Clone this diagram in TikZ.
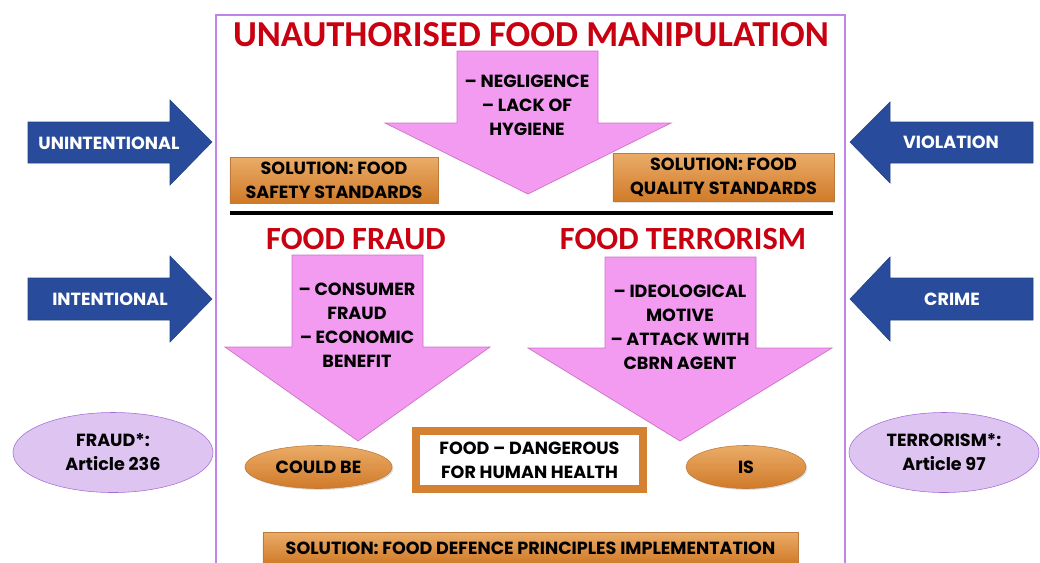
\documentclass[tikz,border=0pt]{standalone}
\usepackage{fontspec}
\usepackage{xcolor}
\usetikzlibrary{shapes.geometric,shadows}
\setmainfont{Poppins}
\newfontfamily\headfont{Carlito}
\definecolor{manipulation}{RGB}{200,0,16}
\definecolor{framing}{RGB}{192,132,236}
\definecolor{arrowpink}{RGB}{242,155,240}
\definecolor{pinkedge}{RGB}{205,115,200}
\definecolor{crimeblue}{RGB}{40,76,155}
\definecolor{orangetop}{RGB}{234,172,104}
\definecolor{orangebottom}{RGB}{208,122,40}
\definecolor{orangeedge}{RGB}{190,122,60}
\definecolor{lavender}{RGB}{222,196,240}
\definecolor{lavenderedge}{RGB}{165,110,215}
\tikzstyle{body}=[font=\bfseries\fontsize{12.5}{17}\selectfont, align=center]
\tikzstyle{heading}=[font=\headfont\bfseries\fontsize{26}{30}\selectfont, text=manipulation]
\tikzstyle{subheading}=[font=\headfont\bfseries\fontsize{23}{27}\selectfont, text=manipulation]
\tikzstyle{sidearrow}=[fill=crimeblue, draw=crimeblue!85!black, line width=.4pt]
\tikzstyle{downarrow}=[fill=arrowpink, draw=pinkedge, line width=.5pt]
\tikzstyle{solution}=[body, draw=orangeedge, top color=orangetop, bottom color=orangebottom,
  drop shadow={opacity=.25, shadow xshift=1pt, shadow yshift=-1pt}]
\tikzstyle{oval}=[body, ellipse, inner sep=0pt, draw=orangeedge, top color=orangetop, bottom color=orangebottom,
  drop shadow={opacity=.25, shadow xshift=1pt, shadow yshift=-1pt}]
\tikzstyle{article}=[body, ellipse, inner sep=0pt, draw=lavenderedge, fill=lavender]

\begin{document}
\begin{tikzpicture}[x=0.025cm, y=-0.025cm]
  \useasboundingbox (0,0) rectangle (1040,562);
  \clip (0,0) rectangle (1040,562);

  %% frame and title
  \draw[framing, line width=1pt] (216,15) rectangle (845,580);
  \draw (531,35) node[heading] (title) {UNAUTHORISED FOOD MANIPULATION};

  %% unauthorised part
  \draw[downarrow] (457,51) -- (598,51) -- (598,123) -- (671,123) -- (528,194) -- (385,123) -- (457,123) -- cycle;
  \draw (527,105) node[body] (negligence) {-- NEGLIGENCE\\-- LACK OF\\HYGIENE};

  \draw (334,180) node[solution, minimum width=5.2cm, minimum height=1.05cm] (safety) {SOLUTION: FOOD\\SAFETY STANDARDS};
  \draw (723.5,177.5) node[solution, minimum width=5.525cm, minimum height=1.075cm] (quality) {SOLUTION: FOOD\\QUALITY STANDARDS};

  \draw[line width=2.2pt] (safety.south west |- 0,213) coordinate (sepL) -- (833,213) coordinate (sepR);

  %% intentional part
  \draw (356,239) node[subheading] (fraud) {FOOD FRAUD};
  \draw (683,239) node[subheading] (terror) {FOOD TERRORISM};

  \draw[downarrow] (292,255) -- (423,255) -- (423,347) -- (490,347) -- (358,441) -- (225,347) -- (292,347) -- cycle;
  \draw (357,325) node[body] (motiveF) {-- CONSUMER\\FRAUD\\-- ECONOMIC\\BENEFIT};

  \draw[downarrow] (605,257) -- (756,257) -- (756,348) -- (832,348) -- (680,441) -- (528,348) -- (605,348) -- cycle;
  \draw (680,327) node[body] (motiveT) {-- IDEOLOGICAL\\MOTIVE\\-- ATTACK WITH\\CBRN AGENT};

  \draw (529.5,460) node[body, draw=orangebottom!85!orangetop, line width=5.5pt, fill=white,
    minimum width=5.675cm, minimum height=1.45cm,
    drop shadow={opacity=.3, shadow xshift=1.5pt, shadow yshift=-1.5pt}] (danger) {FOOD -- DANGEROUS\\FOR HUMAN HEALTH};
  \draw (318.5,467) node[oval, minimum width=3.675cm, minimum height=1.075cm] (could) {COULD BE};
  \draw (746,467) node[oval, minimum width=3cm, minimum height=1.075cm] (is) {IS};

  \draw (530.5,548) node[solution, minimum width=13.375cm, minimum height=0.8cm] (defence) {SOLUTION: FOOD DEFENCE PRINCIPLES IMPLEMENTATION};

  %% side arrows
  \draw[sidearrow] (28,122) -- (170,122) -- (170,100) -- (212,142) -- (170,185) -- (170,163) -- (28,163) -- cycle;
  \draw (109,143) node[body, text=white] (unintentional) {UNINTENTIONAL};
  \draw[sidearrow] (28,278) -- (170,278) -- (170,256) -- (212,299) -- (170,342) -- (170,320) -- (28,320) -- cycle;
  \draw (110,299) node[body, text=white] (intentional) {INTENTIONAL};

  \draw[sidearrow] (1033,122) -- (890,122) -- (890,102) -- (850,142) -- (890,183) -- (890,163) -- (1033,163) -- cycle;
  \draw (951,142) node[body, text=white] (violation) {VIOLATION};
  \draw[sidearrow] (1033,278) -- (890,278) -- (890,257) -- (850,299) -- (890,341) -- (890,320) -- (1033,320) -- cycle;
  \draw (952,299) node[body, text=white] (crime) {CRIME};

  %% articles
  \draw (113,452.5) node[article, minimum width=5cm, minimum height=2cm] (art236) {FRAUD*:\\Article 236};
  \draw (944,452.5) node[article, minimum width=4.75cm, minimum height=2cm] (art97) {TERRORISM*:\\Article 97};
\end{tikzpicture}
\end{document}
